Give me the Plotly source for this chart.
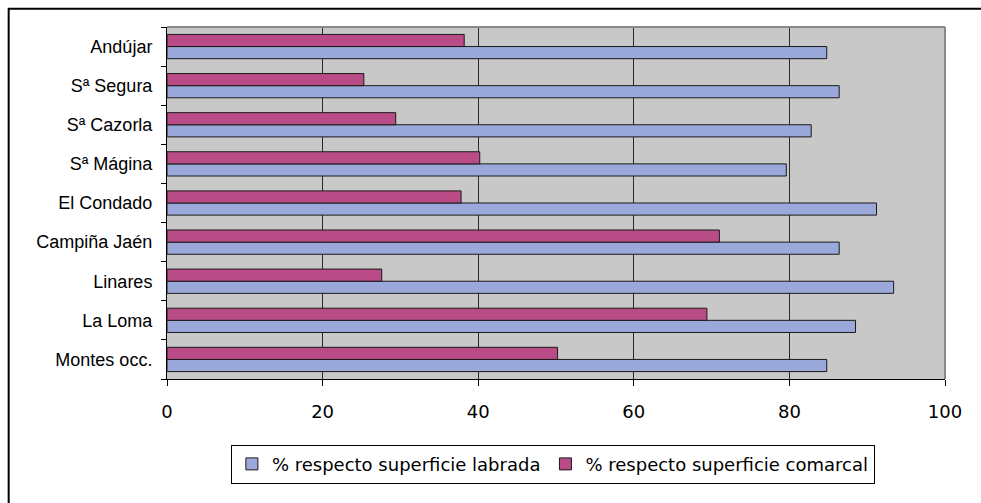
import plotly.graph_objects as go

# Comarcas, listed bottom to top as they appear on the category axis
comarcas = ["Montes occ.", "La Loma", "Linares", "Campiña Jaén", "El Condado",
            "Sª Mágina", "Sª Cazorla", "Sª Segura", "Andújar"]

# Percentages per comarca
pct_labrada = [84.8, 88.5, 93.4, 86.4, 91.2, 79.6, 82.8, 86.4, 84.8]
pct_comarcal = [50.2, 69.4, 27.6, 71.0, 37.8, 40.2, 29.4, 25.3, 38.2]

x_ticks = [0, 20, 40, 60, 80, 100]

FONT = "Liberation Sans, Arial, sans-serif"
WIDE_FONT = "DejaVu Sans, Liberation Sans, sans-serif"
BLUE = "#9AA9D9"
MAGENTA = "#B94C86"
OUTLINE = "#1a1a1a"

fig = go.Figure()
fig.add_trace(go.Bar(
    y=comarcas, x=pct_labrada, orientation="h",
    name="% respecto superficie labrada",
    marker=dict(color=BLUE, line=dict(color=OUTLINE, width=1)),
))
fig.add_trace(go.Bar(
    y=comarcas, x=pct_comarcal, orientation="h",
    name="% respecto superficie comarcal",
    marker=dict(color=MAGENTA, line=dict(color=OUTLINE, width=1)),
))

fig.update_layout(
    width=981, height=503,
    margin=dict(l=167, r=36, t=27, b=124),
    paper_bgcolor="white",
    plot_bgcolor="#C8C8C8",
    barmode="group",
    bargap=0.38,
    bargroupgap=0,
    font=dict(family=FONT, size=18, color="black"),
    showlegend=True,
    legend=dict(
        orientation="h",
        x=0.496, y=-0.242, xanchor="center", yanchor="middle",
        bgcolor="white", bordercolor="black", borderwidth=1,
        font=dict(family=WIDE_FONT, size=18, color="black"),
        traceorder="normal",
        itemwidth=30,
    ),
)

fig.update_xaxes(
    range=[0, 100],
    tickvals=x_ticks,
    ticks="outside", ticklen=6, tickcolor="black",
    showline=True, linecolor="black", linewidth=1,
    showgrid=True, gridcolor="#2a2a2a", gridwidth=1,
    zeroline=False,
    tickfont=dict(family=WIDE_FONT, size=18),
    ticklabelstandoff=10,
)
fig.update_yaxes(
    categoryorder="array", categoryarray=comarcas,
    ticks="outside", ticklen=5, tickcolor="black", tickson="boundaries",
    showline=True, linecolor="black", linewidth=1,
    showgrid=False,
    tickfont=dict(family=FONT, size=18),
    ticklabelstandoff=10,
)

# Grey frame on the top and right sides of the plotting area
fig.add_shape(type="line", xref="paper", yref="paper", x0=0, x1=1, y0=1, y1=1,
              line=dict(color="#8a8a8a", width=2))
fig.add_shape(type="line", xref="paper", yref="paper", x0=1, x1=1, y0=0, y1=1,
              line=dict(color="#8a8a8a", width=2))

# Outer chart border
fig.add_shape(type="rect", xref="paper", yref="paper",
              x0=-0.2035, x1=1.2, y0=-0.6, y1=1.052,
              line=dict(color="black", width=2), fillcolor="rgba(0,0,0,0)",
              layer="below")

fig.write_html("out.html")
